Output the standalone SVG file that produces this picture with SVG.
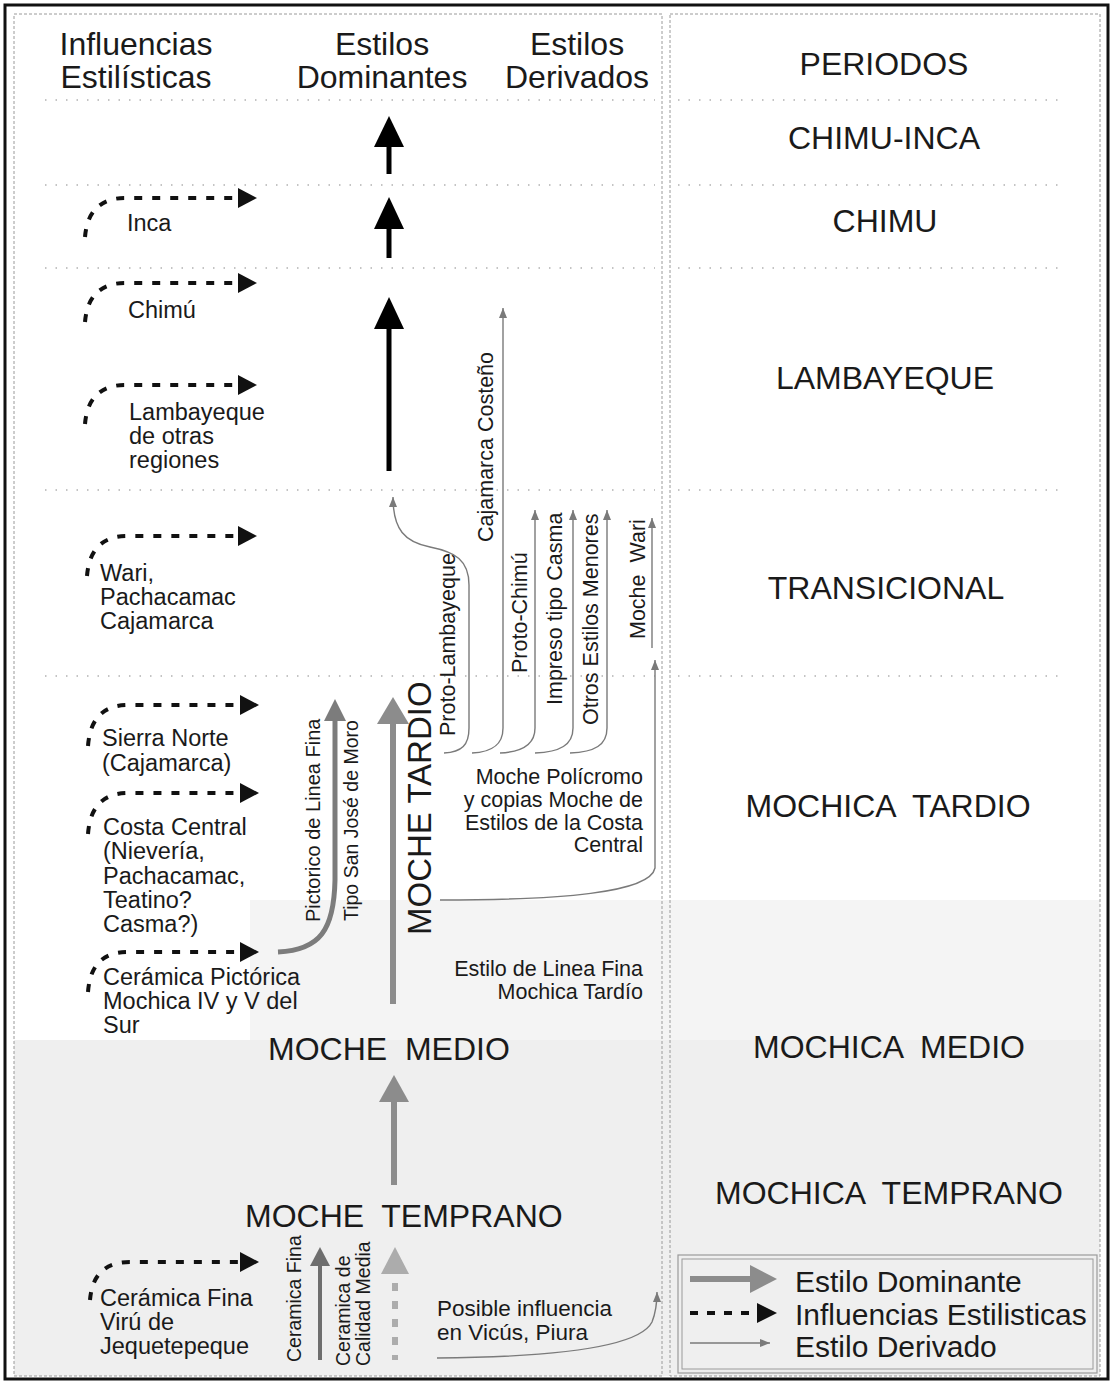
<svg xmlns="http://www.w3.org/2000/svg" width="1114" height="1384" viewBox="0 0 1114 1384">
<defs>
<style>
text{font-family:"Liberation Sans",Arial,sans-serif;fill:#1a1a1a}
.hd{font-size:32px;text-anchor:middle}
.per{font-size:32px;text-anchor:middle}
.dom{font-size:32px}
.inf{font-size:23.5px}
.drv{font-size:21.5px}
.vs{font-size:19.5px}
.lg{font-size:30px}
.sep{stroke:#8a8a8a;stroke-width:1.2;stroke-dasharray:1.5 9;fill:none}
.panel{stroke:#9a9a9a;stroke-width:1;stroke-dasharray:3 2;fill:none}
.infl{stroke:#111;stroke-width:4;stroke-dasharray:8 10;fill:none}
.der{stroke:#7a7a7a;stroke-width:1.4;fill:none}
.blk{stroke:#000;stroke-width:5;fill:none}
.gry{stroke:#8c8c8c;stroke-width:6;fill:none}
</style>
<marker id="dh" viewBox="0 0 10 8" refX="10" refY="4" markerWidth="10" markerHeight="8" markerUnits="userSpaceOnUse" orient="auto">
<path d="M0,0 L10,4 L0,8 Z" fill="#7a7a7a"/>
</marker>
<marker id="ih" viewBox="0 0 19 20" refX="0" refY="10" markerWidth="19" markerHeight="20" markerUnits="userSpaceOnUse" orient="auto">
<path d="M0,0 L19,10 L0,20 Z" fill="#111"/>
</marker>
</defs>

<rect x="0" y="0" width="1114" height="1384" fill="#ffffff"/>
<!-- scanned grey background at lower part -->
<rect x="250" y="900" width="850" height="140" fill="#f4f4f4"/>
<rect x="14" y="1040" width="1086" height="336" fill="#efefef"/>

<!-- frame -->
<rect x="5" y="5" width="1103" height="1374" fill="none" stroke="#111" stroke-width="3"/>
<rect x="14" y="14" width="648" height="1362" class="panel"/>
<rect x="670" y="14" width="430" height="1362" class="panel"/>

<!-- separators -->
<g id="separators">
<line x1="45" y1="100" x2="655" y2="100" class="sep"/>
<line x1="678" y1="100" x2="1065" y2="100" class="sep"/>
<line x1="45" y1="185" x2="655" y2="185" class="sep"/>
<line x1="678" y1="185" x2="1065" y2="185" class="sep"/>
<line x1="45" y1="268" x2="655" y2="268" class="sep"/>
<line x1="678" y1="268" x2="1065" y2="268" class="sep"/>
<line x1="45" y1="490" x2="655" y2="490" class="sep"/>
<line x1="678" y1="490" x2="1065" y2="490" class="sep"/>
<line x1="45" y1="676" x2="655" y2="676" class="sep"/>
<line x1="678" y1="676" x2="1065" y2="676" class="sep"/>
</g>

<!-- headers -->
<g id="header-influencias"><text class="hd" x="136" y="55">Influencias</text><text class="hd" x="136" y="88">Estilísticas</text></g>
<g id="header-dominantes"><text class="hd" x="382" y="55">Estilos</text><text class="hd" x="382" y="88">Dominantes</text></g>
<g id="header-derivados"><text class="hd" x="577" y="55">Estilos</text><text class="hd" x="577" y="88">Derivados</text></g>
<g id="header-periodos"><text class="per" x="884" y="75">PERIODOS</text></g>

<!-- periods -->
<g id="p-chimu-inca"><text class="per" x="884" y="149">CHIMU-INCA</text></g>
<g id="p-chimu"><text class="per" x="885" y="232">CHIMU</text></g>
<g id="p-lambayeque"><text class="per" x="885" y="389">LAMBAYEQUE</text></g>
<g id="p-transicional"><text class="per" x="886" y="599">TRANSICIONAL</text></g>
<g id="p-mochica-tardio"><text class="per" x="888" y="817" xml:space="preserve">MOCHICA  TARDIO</text></g>
<g id="p-mochica-medio"><text class="per" x="889" y="1058" xml:space="preserve">MOCHICA  MEDIO</text></g>
<g id="p-mochica-temprano"><text class="per" x="889" y="1204" xml:space="preserve">MOCHICA  TEMPRANO</text></g>

<!-- influences -->
<g id="inf-inca"><text class="inf" x="127" y="231">Inca</text></g>
<g id="inf-chimu"><text class="inf" x="128" y="318">Chimú</text></g>
<g id="inf-lambayeque"><text class="inf" x="129" y="420">Lambayeque</text><text class="inf" x="129" y="444">de otras</text><text class="inf" x="129" y="468">regiones</text></g>
<g id="inf-wari"><text class="inf" x="100" y="581">Wari,</text><text class="inf" x="100" y="605">Pachacamac</text><text class="inf" x="100" y="629">Cajamarca</text></g>
<g id="inf-sierra"><text class="inf" x="102" y="746">Sierra Norte</text><text class="inf" x="102" y="771">(Cajamarca)</text></g>
<g id="inf-costa"><text class="inf" x="103" y="835">Costa Central</text><text class="inf" x="103" y="859">(Nievería,</text><text class="inf" x="103" y="884">Pachacamac,</text><text class="inf" x="103" y="908">Teatino?</text><text class="inf" x="103" y="932">Casma?)</text></g>
<g id="inf-pictorica"><text class="inf" x="103" y="985">Cerámica Pictórica</text><text class="inf" x="103" y="1009">Mochica IV y V del</text><text class="inf" x="103" y="1033">Sur</text></g>
<g id="inf-viru"><text class="inf" x="100" y="1306">Cerámica Fina</text><text class="inf" x="100" y="1330">Virú de</text><text class="inf" x="100" y="1354">Jequetepeque</text></g>

<!-- dominant styles -->
<g id="dom-moche-tardio"><text class="dom" transform="translate(431,935) rotate(-90)" style="font-size:33px">MOCHE TARDIO</text></g>
<g id="dom-moche-medio"><text class="dom" x="268" y="1060" xml:space="preserve">MOCHE  MEDIO</text></g>
<g id="dom-moche-temprano"><text class="dom" x="245" y="1227" xml:space="preserve">MOCHE  TEMPRANO</text></g>

<!-- vertical labels -->
<g id="lbl-pictorico"><text class="vs" style="font-size:20px" transform="translate(320,922) rotate(-90)">Pictorico de Linea Fina</text></g>
<g id="lbl-sanjose"><text class="vs" transform="translate(358,921) rotate(-90)">Tipo San José de Moro</text></g>
<g id="lbl-ceramica-fina"><text class="vs" transform="translate(301,1362) rotate(-90)">Ceramica Fina</text></g>
<g id="lbl-calidad-media"><text class="vs" transform="translate(350,1366) rotate(-90)">Ceramica de<tspan x="0" dy="20">Calidad Media</tspan></text></g>

<!-- derived styles -->
<g id="der-proto-lambayeque"><text class="drv" transform="translate(455,736) rotate(-90)">Proto-Lambayeque</text></g>
<g id="der-cajamarca"><text class="drv" transform="translate(493,542) rotate(-90)">Cajamarca Costeño</text></g>
<g id="der-proto-chimu"><text class="drv" transform="translate(527,673) rotate(-90)">Proto-Chimú</text></g>
<g id="der-casma"><text class="drv" transform="translate(562,705) rotate(-90)">Impreso tipo Casma</text></g>
<g id="der-otros"><text class="drv" transform="translate(598,725) rotate(-90)">Otros Estilos Menores</text></g>
<g id="der-moche-wari"><text class="drv" transform="translate(645,639) rotate(-90)" xml:space="preserve">Moche  Wari</text></g>
<g id="der-policromo"><text class="drv" text-anchor="end" x="643" y="784">Moche Polícromo</text><text class="drv" text-anchor="end" x="643" y="807">y copias Moche de</text><text class="drv" text-anchor="end" x="643" y="830">Estilos de la Costa</text><text class="drv" text-anchor="end" x="643" y="852">Central</text></g>
<g id="der-linea-fina"><text class="drv" text-anchor="end" x="643" y="976">Estilo de Linea Fina</text><text class="drv" text-anchor="end" x="643" y="999">Mochica Tardío</text></g>
<g id="der-vicus"><text class="inf" style="font-size:22.5px" x="437" y="1316">Posible influencia</text><text class="inf" style="font-size:22.5px" x="437" y="1340">en Vicús, Piura</text></g>

<!-- connectors -->
<g id="connectors">
<path class="infl" marker-end="url(#ih)" d="M85,237 C87,212 100,198 125,198 L238,198"/>
<path class="infl" marker-end="url(#ih)" d="M85,322 C87,297 100,283 125,283 L238,283"/>
<path class="infl" marker-end="url(#ih)" d="M85,424 C87,399 100,385 125,385 L238,385"/>
<path class="infl" marker-end="url(#ih)" d="M87,576 C89,550 102,536 127,536 L238,536"/>
<path class="infl" marker-end="url(#ih)" d="M88,746 C90,719 103,705 128,705 L240,705"/>
<path class="infl" marker-end="url(#ih)" d="M88,834 C90,807 103,793 128,793 L240,793"/>
<path class="infl" marker-end="url(#ih)" d="M88,992 C90,965 103,952 128,952 L240,952"/>
<path class="infl" marker-end="url(#ih)" d="M90,1300 C92,1275 105,1262 130,1262 L240,1262"/>

<line class="blk" x1="389" y1="174" x2="389" y2="140"/>
<polygon points="389,116 374,147 404,147" fill="#000"/>
<line class="blk" x1="389" y1="258" x2="389" y2="222"/>
<polygon points="389,197 374,229 404,229" fill="#000"/>
<line class="blk" x1="389" y1="471" x2="389" y2="322"/>
<polygon points="389,297 374,329 404,329" fill="#000"/>

<line class="gry" x1="393" y1="1004" x2="393" y2="718"/>
<polygon points="393,697 377,724 409,724" fill="#8c8c8c"/>
<path d="M278,952 C320,950 334,930 335,880 L335,716" stroke="#7c7c7c" stroke-width="5" fill="none"/>
<polygon points="335,699 324,721 346,721" fill="#7c7c7c"/>
<line class="gry" x1="394" y1="1185" x2="394" y2="1096"/>
<polygon points="394,1075 379,1102 409,1102" fill="#8c8c8c"/>
<line x1="320" y1="1360" x2="320" y2="1262" stroke="#6e6e6e" stroke-width="4"/>
<polygon points="320,1247 310,1266 330,1266" fill="#6e6e6e"/>
<line x1="395" y1="1283" x2="395" y2="1360" stroke="#acacac" stroke-width="6" stroke-dasharray="8 10"/>
<polygon points="395,1247 381,1274 409,1274" fill="#acacac"/>

<path class="der" marker-end="url(#dh)" d="M444,753 C462,752 469,745 469,728 L469,585 C469,560 455,552 430,547 C405,542 393,530 393,497"/>
<path class="der" marker-end="url(#dh)" d="M472,753 C492,752 503,745 503,728 L503,308"/>
<path class="der" marker-end="url(#dh)" d="M500,753 C522,752 535,745 535,728 L535,510"/>
<path class="der" marker-end="url(#dh)" d="M535,753 C560,752 573,745 573,728 L573,510"/>
<path class="der" marker-end="url(#dh)" d="M570,753 C595,752 607,745 607,728 L607,510"/>
<path class="der" marker-end="url(#dh)" d="M652,648 L652,518"/>
<path class="der" marker-end="url(#dh)" d="M440,900 C560,900 650,893 655,868 L655,660"/>
<path class="der" marker-end="url(#dh)" d="M437,1358 C560,1357 640,1346 652,1322 C656,1312 657,1302 657,1292"/>
</g>

<!-- legend -->
<g id="legend">
<rect x="678" y="1255" width="419" height="118" fill="none" stroke="#9a9a9a" stroke-width="1.2"/>
<rect x="682" y="1259" width="411" height="110" fill="none" stroke="#9a9a9a" stroke-width="1"/>
<line x1="690" y1="1279" x2="754" y2="1279" stroke="#8c8c8c" stroke-width="6"/>
<polygon points="750,1265 777,1279 750,1293" fill="#8c8c8c"/>
<line x1="690" y1="1313" x2="756" y2="1313" stroke="#111" stroke-width="4" stroke-dasharray="8 9"/>
<polygon points="757,1303 777,1313 757,1323" fill="#111"/>
<line x1="690" y1="1343" x2="770" y2="1343" stroke="#7a7a7a" stroke-width="1.4" marker-end="url(#dh)"/>
<text class="lg" x="795" y="1292">Estilo Dominante</text>
<text class="lg" x="795" y="1325">Influencias Estilisticas</text>
<text class="lg" x="795" y="1357">Estilo Derivado</text>
</g>
</svg>
